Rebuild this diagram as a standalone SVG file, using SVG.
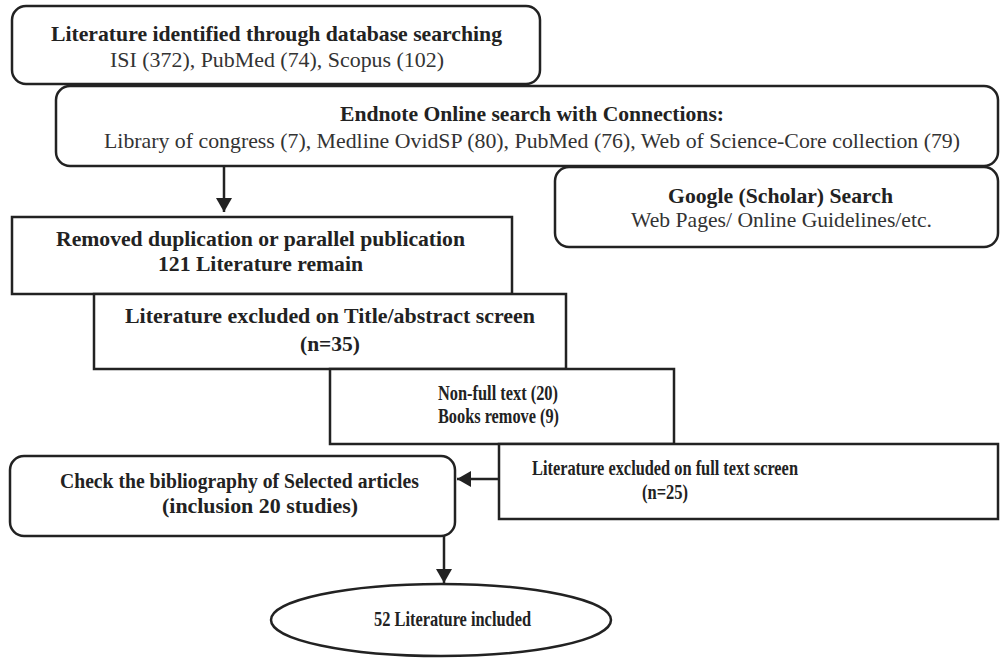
<svg xmlns="http://www.w3.org/2000/svg" width="1000" height="658" viewBox="0 0 1000 658">
<defs>
<style>
.box{fill:#fff;stroke:#222;stroke-width:2.5}
.conn{fill:none;stroke:#222;stroke-width:2.5}
</style>
<marker id="ah" markerUnits="userSpaceOnUse" markerWidth="16" markerHeight="16" viewBox="0 0 16 16" refX="14" refY="8" orient="auto">
<path d="M0,0 L14,8 L0,16 Z" fill="#222"/>
</marker>
</defs>
<rect width="1000" height="658" fill="#fff"/>

<g font-family="'Liberation Serif', 'Times New Roman', serif" font-size="21.5" fill="#222">
<g id="n1">
<rect class="box" x="12" y="6" width="528" height="78" rx="14"/>
<text font-weight="bold" x="51" y="41" textLength="451" lengthAdjust="spacingAndGlyphs">Literature identified through database searching</text>
<text fill="#333" x="110" y="67" textLength="334" lengthAdjust="spacingAndGlyphs">ISI (372), PubMed (74), Scopus (102)</text>
</g>

<g id="n2">
<rect class="box" x="56" y="86" width="942" height="80" rx="14"/>
<text font-weight="bold" x="340" y="121" textLength="384" lengthAdjust="spacingAndGlyphs">Endnote Online search with Connections:</text>
<text fill="#333" x="104" y="148" textLength="856" lengthAdjust="spacingAndGlyphs">Library of congress (7), Medline OvidSP (80), PubMed (76), Web of Science-Core collection (79)</text>
</g>

<g id="n3">
<rect class="box" x="555" y="167" width="443" height="80" rx="14"/>
<text font-weight="bold" x="668" y="203" textLength="225" lengthAdjust="spacingAndGlyphs">Google (Scholar) Search</text>
<text fill="#333" x="631" y="227" textLength="301" lengthAdjust="spacingAndGlyphs">Web Pages/ Online Guidelines/etc.</text>
</g>

<g id="n4">
<rect class="box" x="12" y="217" width="500" height="77"/>
<text font-weight="bold" x="56" y="246" textLength="409" lengthAdjust="spacingAndGlyphs">Removed duplication or parallel publication</text>
<text font-weight="bold" x="158" y="271" textLength="205" lengthAdjust="spacingAndGlyphs">121 Literature remain</text>
</g>

<g id="n5">
<rect class="box" x="94" y="294" width="472" height="75"/>
<text font-weight="bold" x="125" y="323" textLength="410" lengthAdjust="spacingAndGlyphs">Literature excluded on Title/abstract screen</text>
<text font-weight="bold" x="300" y="351" textLength="60" lengthAdjust="spacingAndGlyphs">(n=35)</text>
</g>

<g id="n6">
<rect class="box" x="330" y="369" width="344" height="75"/>
<text font-weight="bold" transform="translate(438,400) scale(0.78,1)" x="0" y="0" textLength="153.8" lengthAdjust="spacingAndGlyphs">Non-full text (20)</text>
<text font-weight="bold" transform="translate(438,423) scale(0.78,1)" x="0" y="0" textLength="155.1" lengthAdjust="spacingAndGlyphs">Books remove (9)</text>
</g>

<g id="n7">
<rect class="box" x="499" y="444" width="499" height="75"/>
<text font-weight="bold" transform="translate(532,475) scale(0.78,1)" x="0" y="0" textLength="341" lengthAdjust="spacingAndGlyphs">Literature excluded on full text screen</text>
<text font-weight="bold" transform="translate(642,499) scale(0.78,1)" x="0" y="0" textLength="59" lengthAdjust="spacingAndGlyphs">(n=25)</text>
</g>

<g id="n8">
<rect class="box" x="10" y="456" width="445" height="80" rx="14"/>
<text font-weight="bold" transform="translate(60,488) scale(0.92,1)" x="0" y="0" textLength="390" lengthAdjust="spacingAndGlyphs">Check the bibliography of Selected articles</text>
<text font-weight="bold" x="162" y="513" textLength="196" lengthAdjust="spacingAndGlyphs">(inclusion 20 studies)</text>
</g>

<g id="n9">
<ellipse class="box" cx="441" cy="620" rx="170" ry="36"/>
<text font-weight="bold" transform="translate(374,626) scale(0.78,1)" x="0" y="0" textLength="201.3" lengthAdjust="spacingAndGlyphs">52 Literature included</text>
</g>
</g>

<g id="connectors">
<path class="conn" d="M224,166 L224,212" marker-end="url(#ah)"/>
<path class="conn" d="M499,479 L457,479" marker-end="url(#ah)"/>
<path class="conn" d="M444,536 L444,583" marker-end="url(#ah)"/>
</g>
</svg>
